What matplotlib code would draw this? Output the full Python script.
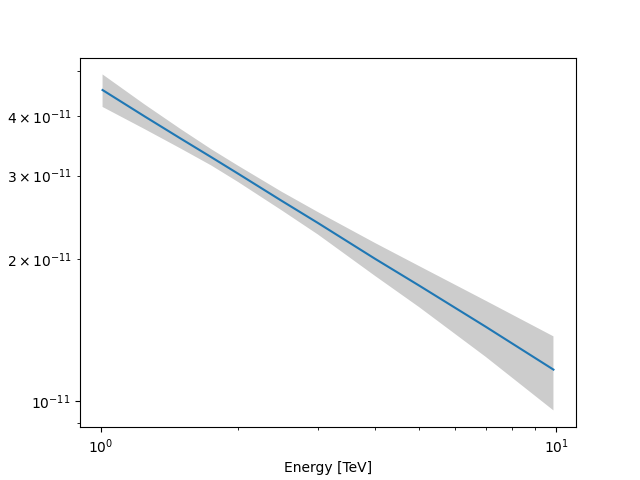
import numpy as np
import matplotlib
matplotlib.use("Agg")
import matplotlib.pyplot as plt

# energies in TeV, flux values in units of 1e-11
energy = [1.01, 1.25, 1.5, 1.75, 2.0, 2.5, 3.0, 4.0, 5.0, 7.0, 9.86]
flux = [4.55, 4.00, 3.59, 3.28, 3.03, 2.65, 2.38, 2.00, 1.755, 1.436, 1.165]
flux_upper = [4.91, 4.24, 3.76, 3.41, 3.15, 2.77, 2.51, 2.16, 1.93, 1.63, 1.37]
flux_lower = [4.19, 3.76, 3.42, 3.15, 2.91, 2.53, 2.25, 1.84, 1.58, 1.24, 0.955]

scale = 1e-11
flux = np.array(flux) * scale
flux_upper = np.array(flux_upper) * scale
flux_lower = np.array(flux_lower) * scale

fig, ax = plt.subplots(figsize=(6.4, 4.8), dpi=100)
ax.fill_between(energy, flux_lower, flux_upper, facecolor="black", alpha=0.2, linewidth=0)
ax.plot(energy, flux, color="C0")
ax.set_xscale("log")
ax.set_yscale("log")
ax.set_xlabel("Energy [TeV]")

fig.savefig("out.png", dpi=100)
